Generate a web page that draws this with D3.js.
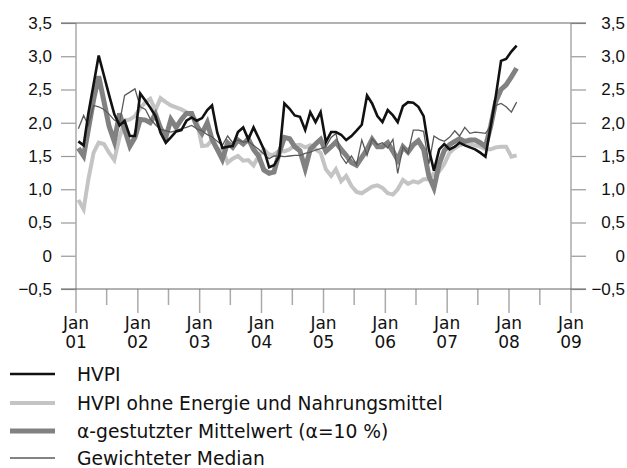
<!DOCTYPE html>
<html>
<head>
<meta charset="utf-8">
<script src="https://cdn.jsdelivr.net/npm/d3@7"></script>
<style>
  body { margin: 0; background: #fff; }
  svg { font-family: "DejaVu Sans", sans-serif; }
  .tick text { fill: #111; }
</style>
</head>
<body>
<div id="chart"></div>
<script>
    var width = 627,
        height = 468;

    // monthly values, Jan 2001 .. Feb 2008
    var startYear = 2001;
    var hvpi = [1.72, 1.66, 2.14, 2.58, 3.01, 2.71, 2.42, 2.13, 1.96, 2.03, 1.8, 1.8,
                2.44, 2.33, 2.23, 2.1, 1.85, 1.7, 1.78, 1.87, 1.89, 2.03, 2.08, 2.03,
                2.07, 2.19, 2.26, 1.85, 1.62, 1.64, 1.65, 1.86, 1.93, 1.75, 1.93, 1.77,
                1.6, 1.33, 1.36, 1.5, 2.29, 2.21, 2.11, 2.09, 1.89, 2.16, 2.01, 2.16,
                1.71, 1.86, 1.86, 1.82, 1.74, 1.8, 1.88, 1.97, 2.41, 2.29, 2.1, 2.01,
                2.19, 2.11, 2.01, 2.25, 2.31, 2.3, 2.24, 2.1, 1.6, 1.28, 1.6, 1.68,
                1.6, 1.64, 1.7, 1.66, 1.63, 1.6, 1.55, 1.49, 1.95, 2.4, 2.93, 2.96,
                3.07, 3.16];
    var hvpiCore = [0.84, 0.7, 1.15, 1.55, 1.7, 1.68, 1.55, 1.44, 1.78, 2.03, 2.05, 2.1,
                    2.22, 2.31, 2.36, 2.19, 2.37, 2.31, 2.26, 2.23, 2.2, 2.16, 2.1, 2.03,
                    1.65, 1.66, 1.74, 1.59, 1.6, 1.4, 1.46, 1.5, 1.43, 1.44, 1.36, 1.5,
                    1.6, 1.52, 1.52, 1.58, 1.57, 1.6, 1.66, 1.67, 1.63, 1.66, 1.6, 1.55,
                    1.3, 1.2, 1.3, 1.12, 1.2, 1.05, 0.96, 0.94, 0.99, 1.04, 1.06, 1.02,
                    0.94, 0.92, 1.0, 1.14, 1.08, 1.12, 1.1, 1.15, 1.15, 1.24, 1.27, 1.38,
                    1.55, 1.62, 1.66, 1.69, 1.68, 1.66, 1.64, 1.6, 1.6, 1.63, 1.64, 1.64,
                    1.49, 1.51];
    var trimmed = [1.62, 1.5, 1.9, 2.35, 2.7, 2.32, 1.95, 1.72, 2.14, 1.9, 1.65, 1.78,
                   2.05, 2.04, 2.0, 2.13, 1.92, 1.78, 2.05, 1.93, 2.05, 2.14, 2.14, 1.95,
                   1.84, 2.0, 1.75, 1.6, 1.45, 1.7, 1.63, 1.74, 1.68, 1.76, 1.6, 1.5,
                   1.29, 1.24, 1.26, 1.55, 1.78, 1.76, 1.64, 1.58, 1.31, 1.6, 1.68, 1.75,
                   1.57, 1.64, 1.71, 1.6, 1.51, 1.4, 1.36, 1.48, 1.6, 1.75, 1.64, 1.64,
                   1.7, 1.57, 1.44, 1.64, 1.56, 1.67, 1.73, 1.6, 1.2, 1.02, 1.38, 1.58,
                   1.67, 1.72, 1.76, 1.72, 1.74, 1.74, 1.7, 1.64, 1.95, 2.32, 2.5, 2.57,
                   2.69, 2.82];
    var median = [1.91, 2.11, 1.96, 2.26, 2.24, 2.2, 2.13, 2.04, 2.0, 2.41, 2.46, 2.51,
                  2.24, 2.2, 2.06, 1.97, 1.9, 1.88, 1.86, 1.88, 1.91, 1.93, 1.96, 1.91,
                  1.88, 1.82, 1.79, 1.72, 1.66, 1.8, 1.7, 1.74, 1.71, 1.72, 1.66, 1.6,
                  1.53, 1.46, 1.5, 1.5, 1.49, 1.5, 1.51, 1.51, 1.54, 1.56, 1.59, 1.61,
                  1.64, 1.78, 1.84, 1.5, 1.39, 1.5, 1.37, 1.74, 1.51, 1.76, 1.67, 1.7,
                  1.62, 1.75, 1.24, 1.64, 1.54, 1.89, 1.89, 1.87, 1.38, 1.8, 1.75, 1.72,
                  1.78, 1.88, 1.8, 1.93, 1.84, 1.86, 1.85, 1.84, 1.95, 2.26, 2.29, 2.24,
                  2.16, 2.31];

    var yTicks = [-0.5, 0, 0.5, 1, 1.5, 2, 2.5, 3, 3.5];
    var yearLabels = ["01", "02", "03", "04", "05", "06", "07", "08", "09"];
    var legendLabels = ["HVPI", "HVPI ohne Energie und Nahrungsmittel",
                        "\u03b1-gestutzter Mittelwert (\u03b1=10 %)", "Gewichteter Median"];

    var series = [
      { name: legendLabels[1], values: hvpiCore, color: "#c4c4c4", width: 4 },
      { name: legendLabels[2], values: trimmed, color: "#818181", width: 5 },
      { name: legendLabels[3], values: median, color: "#5a5a5a", width: 1.3 },
      { name: legendLabels[0], values: hvpi, color: "#111", width: 2.6 }
    ];

    var plotL = 76, plotR = 571, plotT = 23, plotB = 289;

    var x = d3.scaleTime()
      .domain([new Date(2001, 0, 1), new Date(2009, 0, 1)])
      .range([plotL, plotR]);

    var y = d3.scaleLinear()
      .domain([-0.5, 3.5])
      .range([plotB, plotT]);

    var locale = d3.formatLocale({ decimal: ",", thousands: ".", grouping: [3], currency: ["", ""], minus: "\u2212" });
    var fmt = locale.format(".1f");
    function yFormat(d) { return d === 0 ? "0" : fmt(d); }

    var svg = d3.select("#chart").append("svg")
      .attr("width", width)
      .attr("height", height);

    // left and right axes
    var yLeft = svg.append("g")
      .attr("transform", "translate(" + plotL + ",0)")
      .call(d3.axisLeft(y).tickValues(yTicks).tickSize(15).tickPadding(9).tickFormat(yFormat));

    var yRight = svg.append("g")
      .attr("transform", "translate(" + plotR + ",0)")
      .call(d3.axisRight(y).tickValues(yTicks).tickSize(15).tickPadding(9).tickFormat(yFormat));
    yRight.selectAll(".tick text").attr("text-anchor", "end").attr("x", 54);

    [yLeft, yRight].forEach(function(g) {
      g.select(".domain").remove();
      g.selectAll(".tick line").attr("stroke", "#999").attr("stroke-width", 1.2);
      g.selectAll(".tick text").style("font-size", "17px").attr("font-family", null);
    });

    // vertical frame lines
    svg.append("line")
      .attr("x1", plotL).attr("x2", plotL).attr("y1", plotT).attr("y2", plotB)
      .attr("stroke", "#aaa").attr("stroke-width", 1.5);
    svg.append("line")
      .attr("x1", plotR).attr("x2", plotR).attr("y1", plotT).attr("y2", plotB)
      .attr("stroke", "#aaa").attr("stroke-width", 1.5);

    // x axis ticks every half year
    var halfYears = d3.timeMonth.every(6).range(new Date(2001, 0, 1), new Date(2009, 0, 2));
    svg.append("g").selectAll("line")
      .data(halfYears)
      .enter().append("line")
      .attr("x1", function(d) { return x(d); })
      .attr("x2", function(d) { return x(d); })
      .attr("y1", plotB)
      .attr("y2", function(d) { return d.getMonth() === 0 ? plotB + 24 : plotB + 16; })
      .attr("stroke", "#aaa")
      .attr("stroke-width", 1.5);

    var years = d3.timeYear.range(new Date(2001, 0, 1), new Date(2009, 0, 2));
    var xl = svg.append("g").selectAll("text")
      .data(years)
      .enter().append("text")
      .attr("text-anchor", "middle")
      .style("font-size", "17px")
      .attr("fill", "#111");
    xl.append("tspan")
      .attr("x", function(d) { return x(d); })
      .attr("y", 329)
      .text("Jan");
    xl.append("tspan")
      .attr("x", function(d) { return x(d); })
      .attr("y", 348)
      .text(function(d, i) { return yearLabels[i]; });

    // top and bottom lines
    svg.append("line")
      .attr("x1", plotL - 15).attr("x2", plotR + 15).attr("y1", plotT).attr("y2", plotT)
      .attr("stroke", "#666").attr("stroke-width", 1.2);
    svg.append("line")
      .attr("x1", plotL - 15).attr("x2", plotR + 15).attr("y1", plotB).attr("y2", plotB)
      .attr("stroke", "#666").attr("stroke-width", 1.2);

    var line = d3.line()
      .x(function(d, i) { return x(new Date(startYear, i, 15)); })
      .y(function(d) { return y(d); });

    svg.append("g").selectAll("path")
      .data(series)
      .enter().append("path")
      .attr("fill", "none")
      .attr("stroke", function(d) { return d.color; })
      .attr("stroke-width", function(d) { return d.width; })
      .attr("stroke-linejoin", "miter")
      .attr("d", function(d) { return line(d.values); });

    // legend
    var legendOrder = [series[3], series[0], series[1], series[2]];
    var baselines = [381, 410, 438, 465];
    var lg = svg.append("g").selectAll("g")
      .data(legendOrder)
      .enter().append("g");
    lg.append("line")
      .attr("x1", 10).attr("x2", 55)
      .attr("y1", function(d, i) { return baselines[i] - 7; })
      .attr("y2", function(d, i) { return baselines[i] - 7; })
      .attr("stroke", function(d) { return d.color; })
      .attr("stroke-width", function(d) { return d.width; });
    lg.append("text")
      .attr("x", 77)
      .attr("y", function(d, i) { return baselines[i]; })
      .style("font-size", "18.7px")
      .attr("fill", "#111")
      .text(function(d) { return d.name; });
</script>
</body>
</html>
